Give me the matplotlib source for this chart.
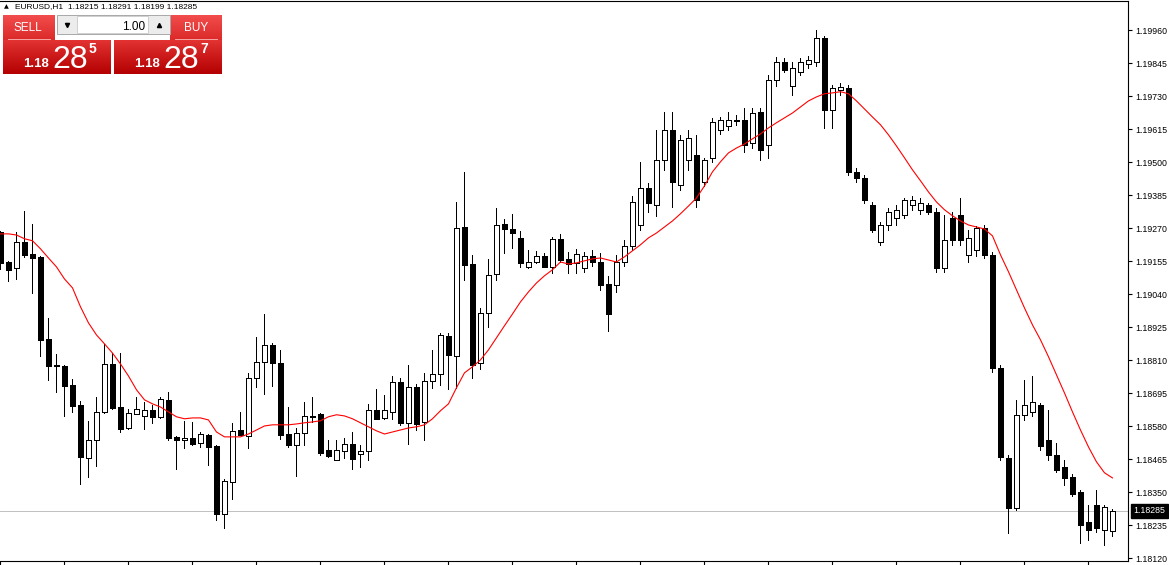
import numpy as np
import matplotlib.pyplot as plt
from matplotlib.patches import Rectangle
from matplotlib.colors import to_rgb

plt.rcParams['font.family'] = ['Liberation Sans', 'DejaVu Sans']

symbol = 'EURUSD'
timeframe = 'H1'
bid = 1.18285
ask = 1.18287
lot = '1.00'

# EURUSD H1, 140 candles
opens = [1.19257, 1.19152, 1.19132, 1.19222, 1.19180, 1.19170, 1.18884, 1.18794, 1.18790, 1.18724,
         1.18654, 1.18470, 1.18532, 1.18630, 1.18797, 1.18647, 1.18574, 1.18623, 1.18616, 1.18637,
         1.18613, 1.18672, 1.18543, 1.18532, 1.18539, 1.18522, 1.18550, 1.18512, 1.18275, 1.18386,
         1.18567, 1.18546, 1.18748, 1.18804, 1.18863, 1.18801, 1.18553, 1.18515, 1.18557, 1.18613,
         1.18623, 1.18498, 1.18463, 1.18494, 1.18518, 1.18484, 1.18494, 1.18637, 1.18609, 1.18630,
         1.18734, 1.18592, 1.18717, 1.18595, 1.18738, 1.18762, 1.18895, 1.18825, 1.19274, 1.19145,
         1.18801, 1.18975, 1.19111, 1.19285, 1.19267, 1.19236, 1.19135, 1.19152, 1.19173, 1.19135,
         1.19233, 1.19163, 1.19149, 1.19132, 1.19173, 1.19152, 1.19076, 1.19072, 1.19152, 1.19208,
         1.19281, 1.19410, 1.19351, 1.19508, 1.19612, 1.19421, 1.19508, 1.19525, 1.19431, 1.19515,
         1.19612, 1.19626, 1.19644, 1.19647, 1.19567, 1.19675, 1.19560, 1.19786, 1.19849, 1.19765,
         1.19814, 1.19842, 1.19849, 1.19933, 1.19682, 1.19751, 1.19758, 1.19466, 1.19445, 1.19351,
         1.19222, 1.19281, 1.19306, 1.19316, 1.19351, 1.19334, 1.19351, 1.19327, 1.19132, 1.19306,
         1.19316, 1.19177, 1.19194, 1.19271, 1.19177, 1.18783, 1.18470, 1.18296, 1.18620, 1.18630,
         1.18654, 1.18532, 1.18480, 1.18438, 1.18404, 1.18351, 1.18247, 1.18306, 1.18219, 1.18215]
highs = [1.19260, 1.19156, 1.19257, 1.19330, 1.19285, 1.19172, 1.18957, 1.18832, 1.18792, 1.18745,
         1.18668, 1.18599, 1.18682, 1.18867, 1.18835, 1.18835, 1.18640, 1.18682, 1.18665, 1.18654,
         1.18682, 1.18700, 1.18545, 1.18599, 1.18595, 1.18560, 1.18552, 1.18515, 1.18397, 1.18592,
         1.18630, 1.18766, 1.18891, 1.18971, 1.18870, 1.18846, 1.18647, 1.18574, 1.18665, 1.18682,
         1.18626, 1.18532, 1.18532, 1.18539, 1.18560, 1.18515, 1.18658, 1.18710, 1.18689, 1.18755,
         1.18748, 1.18794, 1.18727, 1.18766, 1.18846, 1.18905, 1.18905, 1.19361, 1.19466, 1.19177,
         1.18992, 1.19163, 1.19340, 1.19302, 1.19320, 1.19260, 1.19194, 1.19191, 1.19184, 1.19240,
         1.19250, 1.19187, 1.19198, 1.19187, 1.19194, 1.19184, 1.19104, 1.19177, 1.19229, 1.19382,
         1.19501, 1.19428, 1.19612, 1.19675, 1.19675, 1.19595, 1.19612, 1.19595, 1.19515, 1.19654,
         1.19657, 1.19675, 1.19664, 1.19689, 1.19689, 1.19689, 1.19804, 1.19866, 1.19863, 1.19849,
         1.19863, 1.19870, 1.19960, 1.19940, 1.19769, 1.19776, 1.19769, 1.19480, 1.19455, 1.19361,
         1.19292, 1.19340, 1.19351, 1.19375, 1.19382, 1.19375, 1.19358, 1.19340, 1.19316, 1.19327,
         1.19375, 1.19264, 1.19278, 1.19281, 1.19187, 1.18794, 1.18480, 1.18672, 1.18741, 1.18755,
         1.18661, 1.18637, 1.18522, 1.18463, 1.18414, 1.18358, 1.18306, 1.18358, 1.18306, 1.18291]
lows = [1.19128, 1.19086, 1.19093, 1.19170, 1.19044, 1.18825, 1.18741, 1.18700, 1.18616, 1.18630,
        1.18379, 1.18404, 1.18442, 1.18626, 1.18640, 1.18560, 1.18571, 1.18621, 1.18571, 1.18592,
        1.18609, 1.18532, 1.18431, 1.18505, 1.18515, 1.18508, 1.18445, 1.18254, 1.18226, 1.18327,
        1.18548, 1.18505, 1.18717, 1.18693, 1.18721, 1.18536, 1.18508, 1.18407, 1.18515, 1.18595,
        1.18480, 1.18473, 1.18461, 1.18470, 1.18431, 1.18438, 1.18463, 1.18604, 1.18606, 1.18606,
        1.18585, 1.18518, 1.18567, 1.18532, 1.18714, 1.18724, 1.18710, 1.18714, 1.19090, 1.18748,
        1.18780, 1.18926, 1.19090, 1.19184, 1.19201, 1.19135, 1.19132, 1.19149, 1.19133, 1.19114,
        1.19152, 1.19114, 1.19114, 1.19118, 1.19138, 1.19055, 1.18912, 1.19048, 1.19138, 1.19194,
        1.19264, 1.19327, 1.19313, 1.19473, 1.19344, 1.19403, 1.19473, 1.19344, 1.19417, 1.19501,
        1.19598, 1.19612, 1.19630, 1.19536, 1.19549, 1.19508, 1.19515, 1.19765, 1.19814, 1.19734,
        1.19804, 1.19828, 1.19835, 1.19619, 1.19619, 1.19734, 1.19455, 1.19431, 1.19358, 1.19257,
        1.19212, 1.19264, 1.19281, 1.19306, 1.19334, 1.19320, 1.19320, 1.19118, 1.19118, 1.19212,
        1.19212, 1.19152, 1.19173, 1.19166, 1.18769, 1.18463, 1.18209, 1.18289, 1.18602, 1.18616,
        1.18498, 1.18463, 1.18421, 1.18376, 1.18337, 1.18174, 1.18184, 1.18212, 1.18167, 1.18199]
closes = [1.19149, 1.19125, 1.19222, 1.19177, 1.19166, 1.18881, 1.18790, 1.18790, 1.18721, 1.18651,
          1.18473, 1.18532, 1.18630, 1.18797, 1.18644, 1.18571, 1.18626, 1.18640, 1.18637, 1.18613,
          1.18675, 1.18539, 1.18532, 1.18539, 1.18518, 1.18553, 1.18508, 1.18275, 1.18390, 1.18564,
          1.18550, 1.18748, 1.18804, 1.18863, 1.18801, 1.18550, 1.18515, 1.18557, 1.18616, 1.18616,
          1.18487, 1.18477, 1.18498, 1.18518, 1.18466, 1.18494, 1.18637, 1.18606, 1.18637, 1.18734,
          1.18592, 1.18717, 1.18588, 1.18738, 1.18762, 1.18898, 1.18828, 1.19271, 1.19142, 1.18794,
          1.18975, 1.19107, 1.19281, 1.19267, 1.19253, 1.19149, 1.19152, 1.19173, 1.19135, 1.19233,
          1.19159, 1.19145, 1.19180, 1.19173, 1.19152, 1.19072, 1.18971, 1.19152, 1.19208, 1.19361,
          1.19410, 1.19358, 1.19508, 1.19612, 1.19431, 1.19577, 1.19584, 1.19368, 1.19508, 1.19640,
          1.19647, 1.19647, 1.19647, 1.19560, 1.19671, 1.19542, 1.19786, 1.19849, 1.19821, 1.19828,
          1.19849, 1.19856, 1.19933, 1.19682, 1.19758, 1.19762, 1.19466, 1.19445, 1.19368, 1.19264,
          1.19281, 1.19327, 1.19334, 1.19368, 1.19368, 1.19358, 1.19327, 1.19132, 1.19229, 1.19229,
          1.19229, 1.19236, 1.19271, 1.19177, 1.18783, 1.18473, 1.18296, 1.18620, 1.18654, 1.18665,
          1.18512, 1.18480, 1.18428, 1.18400, 1.18344, 1.18236, 1.18219, 1.18226, 1.18299, 1.18285]
# red moving average, read bar by bar
ma = [1.19250, 1.19250, 1.19246, 1.19233, 1.19226, 1.19198, 1.19166, 1.19135, 1.19093, 1.19062,
      1.18996, 1.18940, 1.18898, 1.18867, 1.18835, 1.18797, 1.18755, 1.18707, 1.18672, 1.18658,
      1.18647, 1.18630, 1.18613, 1.18606, 1.18609, 1.18609, 1.18602, 1.18560, 1.18543, 1.18543,
      1.18543, 1.18553, 1.18567, 1.18581, 1.18585, 1.18585, 1.18585, 1.18588, 1.18592, 1.18595,
      1.18599, 1.18613, 1.18620, 1.18616, 1.18606, 1.18592, 1.18578, 1.18564, 1.18553, 1.18560,
      1.18567, 1.18574, 1.18578, 1.18585, 1.18606, 1.18634, 1.18658, 1.18714, 1.18766, 1.18787,
      1.18811, 1.18846, 1.18888, 1.18930, 1.18971, 1.19013, 1.19048, 1.19079, 1.19104, 1.19125,
      1.19152, 1.19145, 1.19149, 1.19156, 1.19163, 1.19166, 1.19159, 1.19152, 1.19170, 1.19191,
      1.19212, 1.19236, 1.19253, 1.19274, 1.19295, 1.19320, 1.19347, 1.19375, 1.19417, 1.19466,
      1.19501, 1.19532, 1.19549, 1.19563, 1.19581, 1.19598, 1.19619, 1.19637, 1.19654, 1.19671,
      1.19692, 1.19713, 1.19727, 1.19738, 1.19741, 1.19745, 1.19738, 1.19713, 1.19685, 1.19657,
      1.19630, 1.19595, 1.19556, 1.19515, 1.19473, 1.19435, 1.19396, 1.19361, 1.19334, 1.19313,
      1.19295, 1.19281, 1.19274, 1.19267, 1.19243, 1.19177, 1.19118, 1.19055, 1.18992, 1.18933,
      1.18881, 1.18822, 1.18759, 1.18696, 1.18630, 1.18567, 1.18508, 1.18456, 1.18418, 1.18400]
yticks = [1.18120, 1.18235, 1.18350, 1.18465, 1.18580, 1.18695, 1.18810, 1.18925, 1.19040,
          1.19155, 1.19270, 1.19385, 1.19500, 1.19615, 1.19730, 1.19845, 1.19960]

o = np.array(opens)
h = np.array(highs)
l = np.array(lows)
c = np.array(closes)
x = np.arange(len(o))
up = c >= o

fig = plt.figure(figsize=(11.69, 5.65), dpi=100)
ax = fig.add_axes([0, 4/565, 1128/1169, 560/565])

ax.axhline(bid, color='#c0c0c0', lw=0.7, zorder=1)
ax.vlines(x, l, h, color='black', lw=0.6, antialiased=False, zorder=2)
ax.bar(x, np.maximum(np.abs(c - o), 1e-6), bottom=np.minimum(o, c), width=0.52,
       color=np.where(up, 'white', 'black'), edgecolor='black', linewidth=0.6,
       antialiased=False, zorder=3)
ax.plot(x, ma, color='#ff0000', lw=0.8, zorder=4)

ax.set_xlim(-0.06, 140.94)
ax.set_ylim(1.181107, 1.20061)

ax.set_xticks(np.arange(0, 141, 8))
ax.set_xticklabels([])
ax.tick_params(axis='x', direction='out', length=3, width=0.8, color='black')
ax.yaxis.tick_right()
ax.set_yticks(yticks)
ax.set_yticklabels([f'{v:.5f}' for v in yticks])
ax.tick_params(axis='y', direction='out', length=3, width=0.8, pad=2,
               labelsize=6.3, color='black')
ax.spines['left'].set_visible(False)
for s in ['top', 'right', 'bottom']:
    ax.spines[s].set_linewidth(0.8)
    ax.spines[s].set_color('black')

ax.annotate(f'{bid:.5f}', xy=(1, bid), xycoords=ax.get_yaxis_transform(),
            xytext=(4, 0), textcoords='offset points', ha='left', va='center',
            fontsize=6.3, color='white', annotation_clip=False,
            bbox=dict(boxstyle='square,pad=0.25', fc='black', ec='black'))

# one-click trading panel, drawn in pixel coordinates
ov = fig.add_axes([0, 0, 1, 1], zorder=5)
ov.axis('off')


def grad_rect(x0, y0, x1, y1, c_top, c_bot):
    t = np.linspace(0, 1, 32)[:, None]
    col = (1 - t) * np.array(to_rgb(c_top)) + t * np.array(to_rgb(c_bot))
    ov.imshow(col[:, None, :], extent=(x0, x1, y1, y0), aspect='auto',
              interpolation='bilinear', zorder=1)


grad_rect(3, 15, 55, 40, '#f24c4c', '#dc2a2a')
grad_rect(170, 15, 222, 40, '#f24c4c', '#dc2a2a')
grad_rect(3, 40, 111, 74, '#e23232', '#b40000')
grad_rect(114, 40, 222, 74, '#e23232', '#b40000')
ov.plot([8, 50], [39, 39], color='#f5a5a5', lw=0.7, zorder=2)
ov.plot([175, 217], [39, 39], color='#f5a5a5', lw=0.7, zorder=2)

ov.add_patch(Rectangle((57, 15), 113, 19, fc='#ececec', ec='#a8a8a8', lw=0.7, zorder=2))
ov.add_patch(Rectangle((77, 16), 71, 17, fc='white', ec='#cfcfcf', lw=0.7, zorder=3))
ov.plot(67, 25, marker='v', ms=3, color='black', zorder=4)
ov.plot(159, 25, marker='^', ms=3, color='black', zorder=4)

ov.text(28, 28, 'SELL', color='white', fontsize=8.5, ha='center', va='center', zorder=5)
ov.text(196, 28, 'BUY', color='white', fontsize=8.5, ha='center', va='center', zorder=5)
ov.text(145, 27, lot, color='black', fontsize=8.5, ha='right', va='center', zorder=5)

for px, price in [(0, bid), (111, ask)]:
    s = f'{price:.5f}'
    ov.text(px + 23, 67, s[:4], color='white', fontsize=9.5, fontweight='bold',
            ha='left', va='baseline', zorder=5)
    ov.text(px + 52, 68, s[4:6], color='white', fontsize=23,
            ha='left', va='baseline', zorder=5)
    ov.text(px + 89, 42, s[6], color='white', fontsize=10, fontweight='bold',
            ha='left', va='top', zorder=5)

ov.text(6, 7, '\u25b2', color='black', fontsize=4.5, ha='center', va='center',
        family=['DejaVu Sans'], zorder=5)
header = f'{symbol},{timeframe}  {o[-1]:.5f} {h[-1]:.5f} {l[-1]:.5f} {c[-1]:.5f}'
ov.text(15, 7, header, color='black', fontsize=6, ha='left', va='center', zorder=5)

ov.set_xlim(0, 1169)
ov.set_ylim(565, 0)

fig.savefig('out.png', dpi=100)
